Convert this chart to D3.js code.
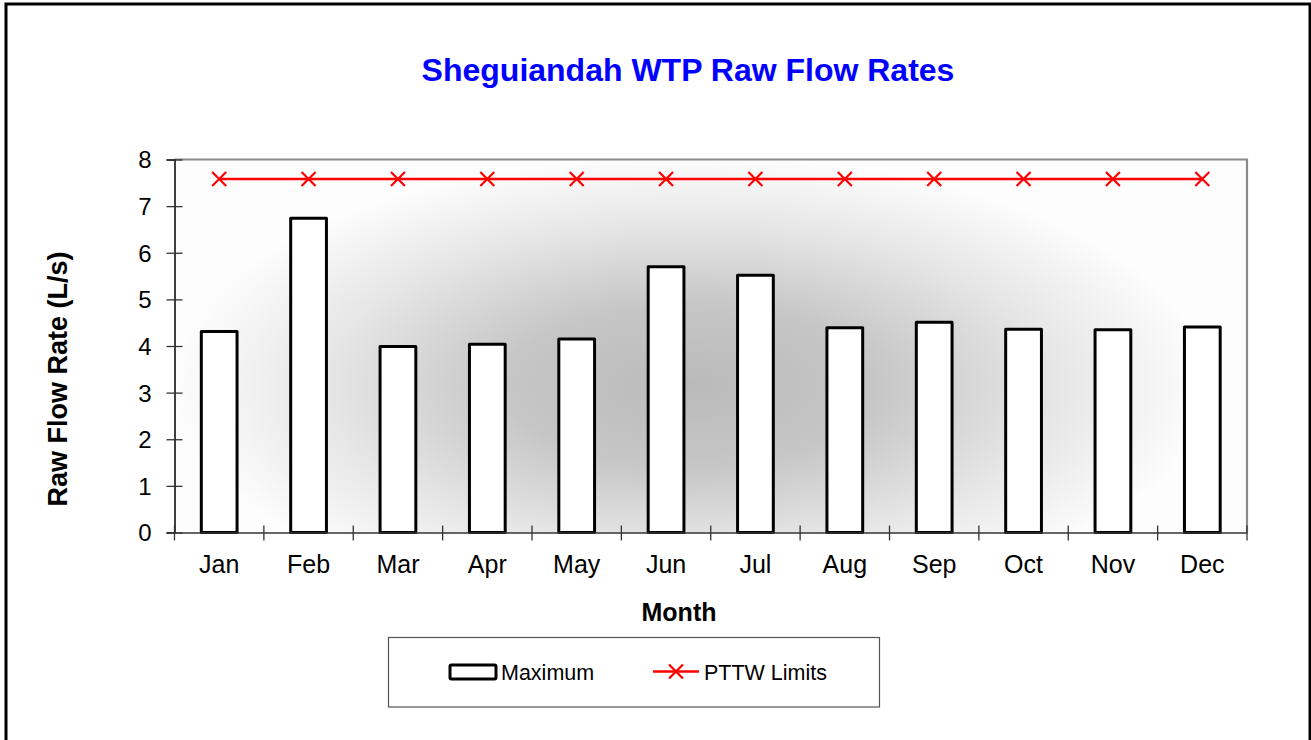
<!DOCTYPE html>
<html><head><meta charset="utf-8">
<script src="https://cdn.jsdelivr.net/npm/d3@7"></script>
<style>body{margin:0;background:#fff}svg{display:block}text{font-family:"Liberation Sans",Arial,sans-serif}</style>
</head><body>
<svg id="c" width="1311" height="740"></svg>
<script>
const months = ["Jan","Feb","Mar","Apr","May","Jun","Jul","Aug","Sep","Oct","Nov","Dec"];
const maximum = [4.31,6.74,3.99,4.04,4.15,5.70,5.52,4.39,4.51,4.36,4.35,4.41];
const pttwLimits = [7.58,7.58,7.58,7.58,7.58,7.58,7.58,7.58,7.58,7.58,7.58,7.58];
const yTicks = [0,1,2,3,4,5,6,7,8];
const title = "Sheguiandah WTP Raw Flow Rates";
const xTitle = "Month";
const yTitle = "Raw Flow Rate (L/s)";
const seriesNames = ["Maximum","PTTW Limits"];

const svg = d3.select("#c");
const L = 174.5, R = 1247, T = 159.5, B = 532.5;

svg.append("rect").attr("x",6).attr("y",4).attr("width",1304).attr("height",760)
  .attr("fill","#fff").attr("stroke","#000").attr("stroke-width",3);

const defs = svg.append("defs");
const gcx = 690, gcy = 385;
const g = defs.append("radialGradient").attr("id","bg").attr("gradientUnits","userSpaceOnUse")
  .attr("cx",0).attr("cy",0).attr("r",1)
  .attr("gradientTransform",`translate(${gcx},${gcy}) scale(520,230)`);
g.append("stop").attr("offset","0%").attr("stop-color","#bababa");
g.append("stop").attr("offset","35%").attr("stop-color","#c6c6c6");
g.append("stop").attr("offset","70%").attr("stop-color","#e6e6e6");
g.append("stop").attr("offset","100%").attr("stop-color","#fdfdfd");

const x = d3.scaleBand().domain(months).range([L,R]).paddingInner(0.6).paddingOuter(0.3);
const y = d3.scaleLinear().domain([0,8]).range([B,T]);

svg.append("rect").attr("x",L).attr("y",T).attr("width",R-L).attr("height",B-T)
  .attr("fill","url(#bg)");
svg.append("path").attr("d",`M${L},${T}H${R}V${B}`).attr("fill","none")
  .attr("stroke","#8a8a8a").attr("stroke-width",2.2);

svg.append("g").selectAll("rect").data(months).join("rect")
  .attr("x",d=>x(d)).attr("width",x.bandwidth())
  .attr("y",(d,i)=>y(maximum[i])).attr("height",(d,i)=>y(0)-y(maximum[i]))
  .attr("fill","#fff").attr("stroke","#000").attr("stroke-width",3).attr("stroke-linejoin","round");

const ya = svg.append("g").attr("transform",`translate(${L},0)`)
  .call(d3.axisLeft(y).tickValues(yTicks).tickSize(8).tickPadding(15).tickFormat(d3.format("d")));
ya.attr("font-size",null).attr("font-family",null);
ya.select(".domain").attr("stroke","#000").attr("stroke-width",1.5);
ya.selectAll(".tick line").attr("x2",-8).attr("x1",8).attr("stroke","#333").attr("stroke-width",1.3);
ya.selectAll(".tick text").style("font-size","24px").attr("fill","#000").attr("dy","0.35em");

const xa = svg.append("g").attr("transform",`translate(0,${B})`)
  .call(d3.axisBottom(x).tickSize(0).tickPadding(23));
xa.attr("font-size",null).attr("font-family",null);
xa.select(".domain").attr("stroke","#333").attr("stroke-width",1.5);
xa.selectAll(".tick text").style("font-size","25px").attr("fill","#000");
const gap = (x.step()-x.bandwidth())/2;
const bounds = months.map(d=>x(d)-gap).concat([x(months[months.length-1])+x.bandwidth()+gap]);
xa.selectAll(".bt").data(bounds).join("line").attr("class","bt")
  .attr("x1",d=>d).attr("x2",d=>d).attr("y1",-7).attr("y2",8)
  .attr("stroke","#333").attr("stroke-width",1.3);

const cx = d=>x(d)+x.bandwidth()/2;
svg.append("path").datum(months)
  .attr("d",d3.line().x(cx).y((d,i)=>y(pttwLimits[i])))
  .attr("fill","none").attr("stroke","#ff0000").attr("stroke-width",2.5);
svg.append("g").selectAll("path").data(months).join("path")
  .attr("d",(d,i)=>{const px=cx(d),py=y(pttwLimits[i]),s=7;return `M${px-s},${py-s}L${px+s},${py+s}M${px-s},${py+s}L${px+s},${py-s}`;})
  .attr("stroke","#ff0000").attr("stroke-width",2.2).attr("fill","none");

svg.append("text").attr("x",688).attr("y",81).attr("text-anchor","middle")
  .style("font-size","32px").attr("font-weight","bold").attr("fill","#0000ff").text(title);
svg.append("text").attr("x",679).attr("y",621).attr("text-anchor","middle")
  .style("font-size","25px").attr("font-weight","bold").attr("fill","#000").text(xTitle);
svg.append("text").attr("transform",`translate(67,${379}) rotate(-90)`).attr("text-anchor","middle")
  .style("font-size","27px").attr("font-weight","bold").attr("fill","#000").text(yTitle);

const lg = svg.append("g");
lg.append("rect").attr("x",388.5).attr("y",637.5).attr("width",491).attr("height",69.5)
  .attr("fill","#fff").attr("stroke","#555").attr("stroke-width",1.2);
lg.append("rect").attr("x",450).attr("y",665).attr("width",46).attr("height",14).attr("rx",1.5)
  .attr("fill","#fff").attr("stroke","#000").attr("stroke-width",3);
lg.append("text").attr("x",501).attr("y",680).style("font-size","21.5px").attr("fill","#000").text(seriesNames[0]);
lg.append("line").attr("x1",653).attr("x2",699).attr("y1",671.5).attr("y2",671.5)
  .attr("stroke","#ff0000").attr("stroke-width",2.5);
lg.append("path").attr("d","M669,664.5L683,678.5M669,678.5L683,664.5").attr("stroke","#ff0000").attr("stroke-width",2.2);
lg.append("text").attr("x",704).attr("y",680).style("font-size","21.5px").attr("fill","#000").text(seriesNames[1]);
</script>
</body></html>
